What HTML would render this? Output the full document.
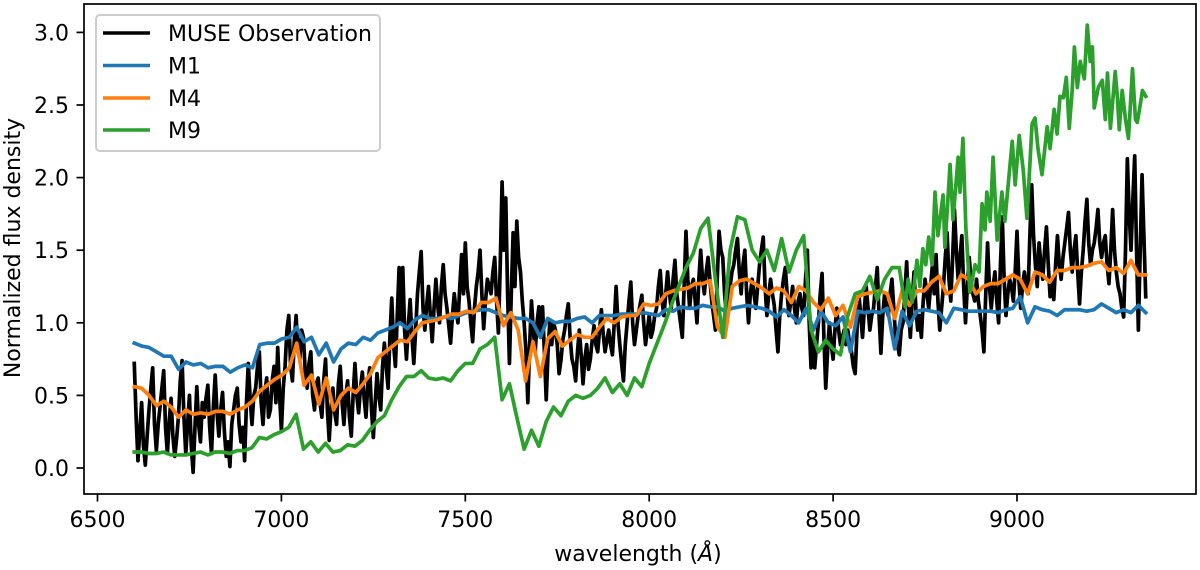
<!DOCTYPE html>
<html lang="en">
<head>
<meta charset="utf-8">
<title>Normalized flux density versus wavelength</title>
<style>
html,body{margin:0;padding:0;background:#fff;width:1200px;height:570px;overflow:hidden}
svg{display:block}
text{font-family:"DejaVu Sans","Liberation Sans",sans-serif;fill:#000}
</style>
</head>
<body>
<svg id="chart" xmlns="http://www.w3.org/2000/svg" width="1200" height="570" viewBox="0 0 1200 570">
  <g id="series-layer"></g>
  <g id="axes-layer"></g>
  <rect x="84" y="4" width="1112" height="490" fill="none" stroke="#000" stroke-width="1.7"/>
  <text x="638" y="561" font-size="22" text-anchor="middle">wavelength (<tspan font-style="italic">Å</tspan>)</text>
  <text x="0" y="0" font-size="22" text-anchor="middle" transform="translate(20,248) rotate(-90)">Normalized flux density</text>
  <g>
    <rect x="96" y="15" width="284" height="136" rx="4" ry="4" fill="#fff" fill-opacity="0.8" stroke="#ccc" stroke-width="2"/>
    <g>
      <line x1="103" x2="150" y1="33" y2="33" stroke="#000" stroke-width="3.4"/>
      <text x="168" y="41" font-size="22">MUSE Observation</text>
    </g>
    <g>
      <line x1="103" x2="150" y1="65.5" y2="65.5" stroke="#1f77b4" stroke-width="3.4"/>
      <text x="168" y="73.5" font-size="22">M1</text>
    </g>
    <g>
      <line x1="103" x2="150" y1="98" y2="98" stroke="#ff7f0e" stroke-width="3.4"/>
      <text x="168" y="106" font-size="22">M4</text>
    </g>
    <g>
      <line x1="103" x2="150" y1="130" y2="130" stroke="#2ca02c" stroke-width="3.4"/>
      <text x="168" y="138" font-size="22">M9</text>
    </g>
  </g>
</svg>
<script>
const wavelengthRange = [6600, 9350];
const xTickValues = [6500, 7000, 7500, 8000, 8500, 9000];
const xTickLabels = ["6500", "7000", "7500", "8000", "8500", "9000"];
const yTickValues = [0, 0.5, 1, 1.5, 2, 2.5, 3];
const yTickLabels = ["0.0", "0.5", "1.0", "1.5", "2.0", "2.5", "3.0"];

const museFlux = [
.72,.35,.05,.25,.45,.15,.02,.22,.40,.55,.69,.30,.12,.30,.42,.55,.67,.28,.10,.32,
.48,.22,.08,.20,.35,.60,.74,.35,.10,.30,.50,.15,-.03,.28,.56,.30,.18,.45,.35,.48,
.57,.28,.10,.42,.64,.38,.22,.40,.52,.25,.08,.18,.01,.30,.40,.50,.55,.30,.18,.28,
.05,.45,.72,.48,.30,.50,.55,.70,.80,.45,.30,.52,.62,.35,.40,.60,.70,.45,.83,.50,
.26,.55,.70,.95,1.05,.70,.60,.88,1.05,.80,.75,.95,.90,.65,.55,.72,.80,.50,.40,.58,
.62,.45,.35,.60,.75,.40,.19,.42,.55,.38,.30,.58,.70,.45,.30,.50,.60,.35,.22,.50,
.72,.50,.38,.55,.66,.48,.35,.58,.69,.40,.21,.45,.65,.50,.40,.70,.86,.70,.55,.90,
1.17,.85,.70,1.05,1.38,1.00,1.38,.95,.75,.98,1.16,.90,.72,.95,1.20,1.35,1.49,1.10,.95,1.12,
1.25,1.05,.87,1.10,1.30,1.12,1.00,1.25,1.40,1.20,1.10,.98,.86,1.05,1.20,1.08,1.00,1.25,1.47,1.20,
1.55,1.25,1.15,1.00,.87,1.10,1.25,1.35,1.50,1.20,.96,1.15,1.30,1.25,1.20,1.35,1.45,1.15,.93,1.40,
1.97,1.50,1.86,1.20,.72,1.20,1.62,1.25,1.70,1.45,1.35,1.15,1.00,.80,.45,.85,1.15,.95,.80,1.00,
1.11,.90,1.11,.80,.47,.80,1.02,.85,1.00,.95,.85,.65,.74,.88,.95,1.05,1.13,.90,.75,.70,
.60,.80,.95,.78,.58,.75,.85,.68,.75,.88,.98,.85,.80,.95,1.09,.92,.80,.88,.95,.85,
.78,1.00,1.25,1.00,.85,.72,.60,.85,1.00,1.15,1.28,1.00,.85,.95,1.05,1.12,1.19,1.00,.85,.95,
1.05,.90,.95,1.05,1.10,1.25,1.36,1.15,1.05,1.20,1.35,1.20,1.10,1.30,1.43,1.20,1.10,1.00,.90,1.25,
1.63,1.30,1.10,1.25,1.30,1.15,1.00,1.30,1.50,1.30,1.20,1.35,1.45,1.30,1.15,1.05,.95,1.30,1.63,1.50,
1.45,1.20,1.05,1.15,1.25,1.35,1.40,1.50,1.58,1.35,1.20,1.40,1.50,1.20,1.00,1.20,1.30,1.20,1.10,1.25,
1.40,1.50,1.59,1.25,1.05,1.20,1.30,1.20,1.12,.95,.80,1.05,1.20,1.30,1.38,1.20,1.05,1.15,1.25,1.10,
1.00,1.15,1.20,1.10,1.05,1.30,1.50,1.00,.69,.90,.69,.85,1.00,1.20,1.34,.90,.55,.80,1.00,.85,
.75,.95,1.10,.95,.85,.90,.95,.85,.95,.85,.80,.70,.65,.95,1.20,1.05,.90,1.10,1.25,1.10,
.95,1.05,1.10,1.25,1.38,1.05,.79,1.05,1.20,1.10,1.05,1.20,1.30,1.10,.90,.85,.78,.95,1.00,1.20,
1.42,1.10,.90,1.15,1.35,1.10,.95,1.05,.90,1.15,1.30,1.20,1.10,1.25,1.40,1.20,1.47,1.15,.95,1.10,
1.25,1.45,1.62,1.30,1.15,1.45,1.78,1.50,1.30,1.45,1.60,1.25,1.00,1.25,1.45,1.30,1.20,1.15,1.30,1.15,
1.05,.95,.80,1.20,1.55,1.25,1.10,1.25,1.35,1.15,1.00,1.40,1.73,1.30,1.05,1.20,1.30,1.25,1.15,1.35,
1.63,1.30,1.10,1.25,1.35,1.25,1.20,1.60,1.95,1.60,1.40,1.25,1.55,1.40,1.30,1.50,1.66,1.40,1.18,1.30,
1.16,1.40,1.60,1.40,1.30,1.45,1.55,1.65,1.76,1.50,1.35,1.50,1.60,1.35,1.13,1.35,1.50,1.70,1.85,1.55,
1.40,1.50,1.55,1.65,1.78,1.55,1.45,1.55,1.60,1.40,1.27,1.50,1.78,1.50,1.35,1.25,1.20,1.10,1.04,1.50,
2.13,1.75,1.50,1.85,2.15,1.50,.95,1.50,2.02,1.60,1.18
];

const m1Flux = [
.86,.84,.83,.80,.77,.77,.68,.73,.71,.72,
.69,.70,.70,.66,.69,.71,.69,.85,.86,.86,
.89,.90,.97,.87,.90,.78,.86,.73,.82,.86,
.85,.90,.88,.93,.95,.97,1.00,.96,1.02,1.05,
1.03,1.03,1.04,1.03,1.05,1.07,1.08,1.09,1.09,1.07,
1.05,1.04,1.03,1.03,1.00,.90,1.03,1.00,1.01,1.01,
1.03,1.04,1.00,1.05,1.05,1.05,1.06,1.06,1.06,1.07,
1.06,1.05,1.09,1.08,1.11,1.10,1.10,1.12,1.11,1.11,
1.08,1.10,1.11,1.12,1.11,1.10,1.08,1.04,1.09,1.05,
1.00,1.10,.95,1.08,1.00,.98,1.04,.80,1.08,1.07,
1.08,1.07,1.10,.82,1.08,.98,1.08,1.09,1.08,1.07,
1.00,1.10,1.09,1.08,1.08,1.08,1.08,1.07,1.09,1.10,
1.18,1.00,1.11,1.09,1.08,1.05,1.09,1.09,1.09,1.08,
1.09,1.13,1.10,1.07,1.09,1.07,1.12,1.07
];

const m4Flux = [
.56,.55,.50,.43,.46,.42,.35,.40,.37,.38,
.37,.39,.39,.37,.40,.42,.46,.53,.57,.61,
.64,.69,.86,.57,.64,.44,.62,.40,.50,.55,
.52,.58,.65,.76,.80,.84,.88,.87,.94,1.00,
1.01,1.02,1.04,1.06,1.06,1.08,1.07,1.14,1.14,1.17,
.98,1.07,.95,.60,.87,.63,.89,.94,.84,.88,
.92,.90,.90,.97,1.03,1.00,1.04,1.05,1.05,1.13,
1.12,1.13,1.20,1.22,1.23,1.24,1.27,1.27,1.29,.97,
.90,1.25,1.29,1.30,1.27,1.24,1.20,1.24,1.22,1.14,
1.25,1.22,1.14,1.09,1.17,1.05,1.12,.97,1.18,1.20,
1.21,1.22,1.20,1.03,1.22,1.12,1.22,1.22,1.28,1.32,
1.20,1.22,1.33,1.30,1.20,1.25,1.27,1.27,1.30,1.33,
1.30,1.20,1.35,1.33,1.28,1.36,1.36,1.38,1.38,1.39,
1.41,1.42,1.36,1.38,1.34,1.43,1.33,1.33
];

const m9Wavelengths = [
6600,6620,6640,6660,6680,6700,6720,6740,6760,6780,
6800,6820,6840,6860,6880,6900,6920,6940,6960,6980,
7000,7020,7040,7060,7080,7100,7120,7140,7160,7180,
7200,7220,7240,7260,7280,7300,7320,7340,7360,7380,
7400,7420,7440,7460,7480,7500,7520,7540,7560,7580,
7600,7620,7640,7660,7680,7700,7720,7740,7760,7780,
7800,7820,7840,7860,7880,7900,7920,7940,7960,7980,
8000,8020,8040,8060,8080,8100,8120,8140,8160,8180,
8200,8220,8240,8260,8280,8300,8320,8340,8360,8380,
8400,8420,8440,8460,8480,8500,8520,8540,8560,8580,
8600,8620,8640,8660,8680,
8696,8704,8715,8728,8736,8744,8752,8760,8769,8777,
8785,8799,8804,8818,8826,8840,8845,8853,8861,8872,
8886,8897,8905,8913,8918,8927,8935,8946,8959,8967,
8976,8987,8995,9006,9017,9027,9041,9049,9057,9068,
9082,9090,9101,9109,9117,9126,9134,9142,9150,9156,
9164,9172,9183,9191,9199,9205,9210,9221,9232,9240,
9246,9254,9267,9273,9278,9286,9295,9303,9314,9322,
9327,9335,9341,9350
];

const m9Flux = [
.11,.11,.10,.10,.11,.09,.09,.09,.10,.11,
.09,.11,.11,.10,.12,.12,.14,.21,.20,.23,
.25,.28,.37,.13,.18,.11,.17,.11,.12,.16,
.15,.19,.26,.32,.36,.47,.56,.63,.63,.67,
.62,.61,.62,.60,.67,.72,.72,.82,.85,.90,
.47,.58,.35,.13,.26,.15,.32,.42,.36,.46,
.50,.48,.50,.55,.62,.52,.58,.50,.62,.56,
.72,.85,.98,1.12,1.25,1.38,1.48,1.65,1.72,1.30,
.90,1.50,1.73,1.71,1.50,1.42,1.50,1.36,1.58,1.35,
1.50,1.60,.95,.80,.88,.82,.78,1.05,1.20,1.22,
1.32,1.16,1.30,1.38,1.38,
1.11,1.30,1.14,1.43,1.25,1.51,1.40,1.59,1.40,1.90,
1.60,1.88,1.52,2.09,1.71,2.14,1.90,2.27,1.65,1.21,
1.40,1.35,1.82,1.64,1.90,1.70,2.14,1.57,1.90,1.70,
1.95,2.25,1.95,2.29,2.05,1.72,2.37,2.41,2.20,2.02,
2.35,2.20,2.47,2.30,2.56,2.55,2.69,2.34,2.60,2.90,
2.62,2.80,2.68,3.05,2.80,2.90,2.48,2.62,2.67,2.40,
2.72,2.34,2.73,2.55,2.33,2.60,2.40,2.27,2.75,2.40,
2.38,2.50,2.60,2.56
];

const museColor = "#000000";
const m1Color = "#1f77b4";
const m4Color = "#ff7f0e";
const m9Color = "#2ca02c";

const SVG_NS = "http://www.w3.org/2000/svg";

function xScale(wavelength) {
  return 97.5 + (wavelength - 6500) * 0.3678;
}

function yScale(flux) {
  return 468 - flux * 145.2;
}

function buildPoints(values, wavelengths) {
  const step = (wavelengthRange[1] - wavelengthRange[0]) / (values.length - 1);
  return values.map(function (value, index) {
    const wavelength = wavelengths ? wavelengths[index] : wavelengthRange[0] + index * step;
    return xScale(wavelength).toFixed(2) + "," + yScale(value).toFixed(2);
  }).join(" ");
}

const seriesLayer = document.getElementById("series-layer");
const axesLayer = document.getElementById("axes-layer");

function drawSeries(values, wavelengths, color, name) {
  const line = document.createElementNS(SVG_NS, "polyline");
  line.setAttribute("points", buildPoints(values, wavelengths));
  line.setAttribute("fill", "none");
  line.setAttribute("stroke", color);
  line.setAttribute("stroke-width", "3.7");
  line.setAttribute("stroke-linejoin", "round");
  line.setAttribute("stroke-linecap", "square");
  
  
  seriesLayer.appendChild(line);
}

drawSeries(museFlux, null, museColor, "series-muse-observation");
drawSeries(m1Flux, null, m1Color, "series-m1");
drawSeries(m4Flux, null, m4Color, "series-m4");
drawSeries(m9Flux, m9Wavelengths, m9Color, "series-m9");

xTickValues.forEach(function (value, index) {
  const px = xScale(value);
  const tick = document.createElementNS(SVG_NS, "line");
  tick.setAttribute("x1", px);
  tick.setAttribute("x2", px);
  tick.setAttribute("y1", 494);
  tick.setAttribute("y2", 501.5);
  tick.setAttribute("stroke", "#000");
  tick.setAttribute("stroke-width", "1.7");
  
  
  axesLayer.appendChild(tick);
  const label = document.createElementNS(SVG_NS, "text");
  label.setAttribute("x", px);
  label.setAttribute("y", 527);
  label.setAttribute("font-size", "22");
  label.setAttribute("text-anchor", "middle");
  
  
  label.textContent = xTickLabels[index];
  axesLayer.appendChild(label);
});

yTickValues.forEach(function (value, index) {
  const py = yScale(value);
  const tick = document.createElementNS(SVG_NS, "line");
  tick.setAttribute("x1", 76.5);
  tick.setAttribute("x2", 84);
  tick.setAttribute("y1", py);
  tick.setAttribute("y2", py);
  tick.setAttribute("stroke", "#000");
  tick.setAttribute("stroke-width", "1.7");
  
  
  axesLayer.appendChild(tick);
  const label = document.createElementNS(SVG_NS, "text");
  label.setAttribute("x", 69);
  label.setAttribute("y", py + 8);
  label.setAttribute("font-size", "22");
  label.setAttribute("text-anchor", "end");
  
  
  label.textContent = yTickLabels[index];
  axesLayer.appendChild(label);
});
</script>
</body>
</html>
